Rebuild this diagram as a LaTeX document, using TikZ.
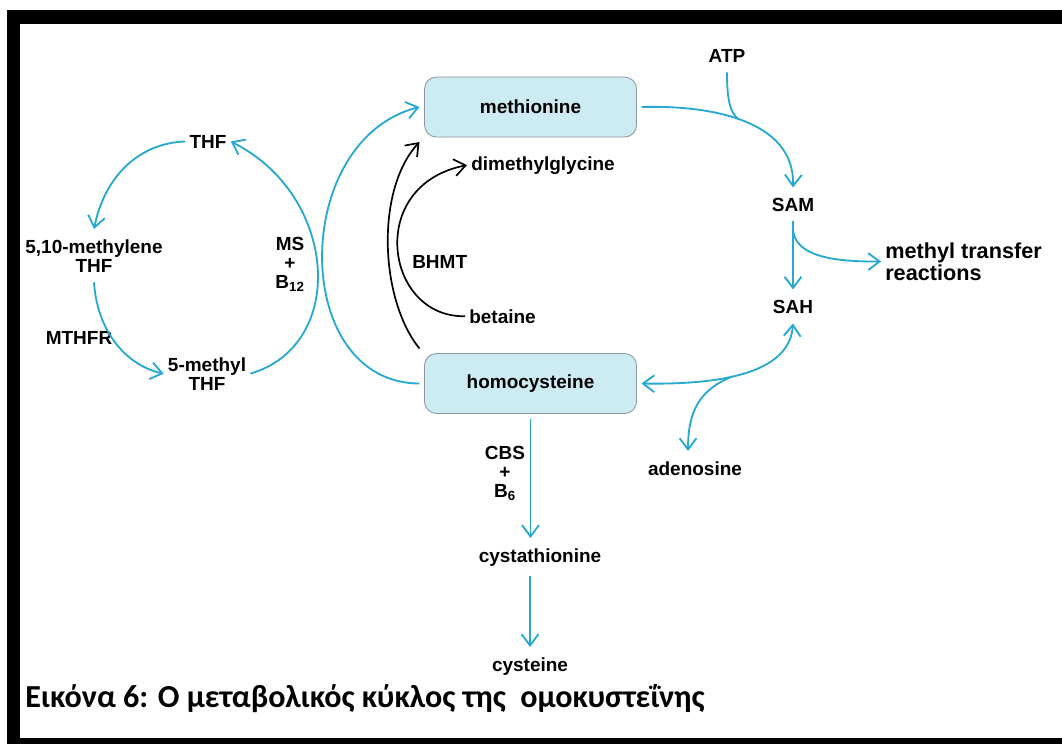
\documentclass[tikz,border=0pt]{standalone}
\usepackage{fontspec}
\setmainfont{Liberation Sans}
\newfontfamily\capfont{Carlito}
\usetikzlibrary{arrows.meta}
\definecolor{cycleblue}{RGB}{38,168,210}
\definecolor{boxfill}{RGB}{205,235,242}
\definecolor{boxline}{RGB}{140,152,158}
\begin{document}
\begin{tikzpicture}[x=0.025cm,y=-0.025cm,
                >={Straight Barb[length=8pt,width=12pt]},
                lbl/.style={inner xsep=0.1cm,inner ysep=0.25cm,font=\fontsize{13.5pt}{13.5pt}\selectfont\bfseries},
                box/.style={lbl,draw=boxline,fill=boxfill,rounded corners=0.3cm,minimum width=5.3cm,minimum height=1.5cm,outer sep=0.125cm,line width=0.6pt},
                flow/.style={cycleblue,line width=1.3pt},
                bypass/.style={black,line width=1.2pt}]
                 \useasboundingbox (0,0) rectangle (1062,744);
                 \fill[black] (7,10) rectangle (1062,744);
                 \fill[white] (20,24) rectangle (1062,738);
                 \node[box] (met) at (530.5,107) {methionine};
                 \node[box] (hcy) at (530.5,383.5) {homocysteine};
                 \node[lbl,anchor=base west] (dmg) at (467,170) {dimethylglycine};
                 \node[lbl,anchor=base west] (bhmt) at (408,268) {BHMT};
                 \node[lbl,anchor=base west] (bet) at (465,323) {betaine};
                 \node[lbl,anchor=base] (thf) at (208,148) {THF};
                 \node[lbl,anchor=base,align=center] (mthf) at (94,272) {5,10-methylene\\THF};
                 \node[lbl,anchor=base] (mthfr) at (79,344) {MTHFR};
                 \node[lbl,anchor=base,align=center] (fmthf) at (207,390) {5-methyl\\THF};
                 \node[lbl,anchor=base,align=center] (ms) at (290,288) {MS\\+\\B\textsubscript{12}};
                 \node[lbl,anchor=base] (atp) at (727,62) {ATP};
                 \node[lbl,anchor=base] (sam) at (793,211) {SAM};
                 \node[lbl,anchor=base] (sah) at (793,313) {SAH};
                 \node[lbl,anchor=base west,align=left,font=\fontsize{15.4pt}{15.4pt}\selectfont\bfseries] (mtr) at (881,280) {methyl transfer\\reactions};
                 \node[lbl,anchor=base] (ado) at (695,475) {adenosine};
                 \node[lbl,anchor=base,align=center] (cbs) at (505,497) {CBS\\+\\B\textsubscript{6}};
                 \node[lbl,anchor=base] (cysta) at (540,562) {cystathionine};
                 \node[lbl,anchor=base] (cys) at (530,671) {cysteine};
                 \node[anchor=base west,inner sep=0pt,font=\capfont\fontsize{22.8pt}{24pt}\selectfont\bfseries] (cap) at (25,707) {Εικόνα 6: Ο μεταβολικός κύκλος της \ ομοκυστεΐνης};
                 \draw[flow,->] (thf.west) .. controls (140,143) and (105,175) .. (mthf.north);
                 \draw[flow,->] (mthf.south) .. controls (97,330) and (125,365) .. (fmthf.west);
                 \draw[flow,->] (fmthf.east) .. controls (348,345) and (338,195) .. (thf.east);
                 \draw[flow,->] (hcy.west) .. controls (290,383) and (290,140) .. (met.west);
                 \draw[bypass,->] (hcy.north west) .. controls (380,300) and (375,190) .. (met.south west);
                 \draw[bypass,->] (bet.west) .. controls (385,318) and (365,185) .. (dmg.west);
                 \draw[flow,->] (met.east) .. controls (710,105) and (795,120) .. coordinate[pos=0.47] (join) (sam.north);
                 \draw[flow] (atp.south) .. controls (727,100) and (730,112) .. (join);
                 \draw[flow,->] (sam.south) -- coordinate[pos=0.12] (br) (sah.north);
                 \draw[flow,->] (br) .. controls (795,255) and (830,262) .. (mtr.west);
                 \draw[flow,<->] (hcy.east) .. controls (730,385) and (790,370) .. coordinate[pos=0.4] (ad) (sah.south);
                 \draw[flow,->] (ad) .. controls (700,390) and (688,410) .. ([xshift=-0.175cm]ado.north);
                 \draw[flow,->] (hcy.south) -- (hcy.south |- cysta.north);
                 \draw[flow,->] (cys.north |- cysta.south) -- (cys.north);
\end{tikzpicture}
\end{document}
